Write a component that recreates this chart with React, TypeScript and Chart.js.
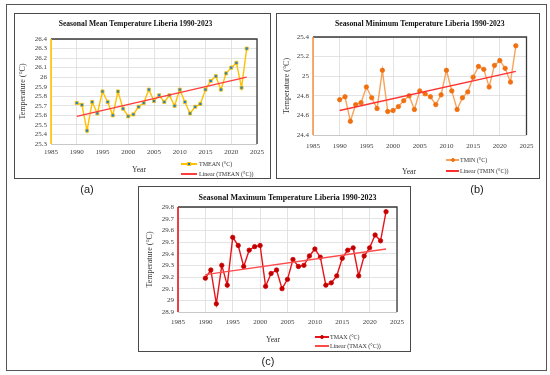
import React, { useEffect, useRef } from "react";
import { Chart, registerables } from "chart.js";
Chart.register(...registerables);

// ---------- data ----------
const years = [
  1990, 1991, 1992, 1993, 1994, 1995, 1996, 1997, 1998, 1999,
  2000, 2001, 2002, 2003, 2004, 2005, 2006, 2007, 2008, 2009,
  2010, 2011, 2012, 2013, 2014, 2015, 2016, 2017, 2018, 2019,
  2020, 2021, 2022, 2023,
];
const tmean = [
  25.73, 25.71, 25.44, 25.74, 25.62, 25.85, 25.74, 25.6, 25.85, 25.67,
  25.59, 25.61, 25.69, 25.73, 25.87, 25.75, 25.81, 25.74, 25.81, 25.7,
  25.87, 25.74, 25.62, 25.69, 25.72, 25.87, 25.96, 26.01, 25.87, 26.04,
  26.1, 26.15, 25.89, 26.3,
];
const tmin = [
  24.76, 24.79, 24.54, 24.71, 24.73, 24.89, 24.78, 24.67, 25.06, 24.64,
  24.65, 24.69, 24.75, 24.8, 24.66, 24.85, 24.82, 24.79, 24.71, 24.81,
  25.06, 24.85, 24.66, 24.78, 24.84, 24.99, 25.1, 25.07, 24.89, 25.11,
  25.16, 25.08, 24.94, 25.31,
];
const tmax = [
  29.19, 29.26, 28.97, 29.3, 29.13, 29.54, 29.47, 29.29, 29.43, 29.46,
  29.47, 29.12, 29.23, 29.26, 29.1, 29.18, 29.35, 29.29, 29.3, 29.38,
  29.44, 29.37, 29.13, 29.15, 29.21, 29.36, 29.43, 29.45, 29.21, 29.38,
  29.45, 29.56, 29.51, 29.76,
];
const trendYears = [1990, 2023];
const tmeanTrend = [25.59, 26.0];
const tminTrend = [24.65, 25.05];
const tmaxTrend = [29.22, 29.44];

const xMin = 1985;
const xMax = 2025;
const xStep = 5;

const titles = [
  "Seasonal Mean Temperature Liberia 1990-2023",
  "Seasonal Minimum Temperature Liberia 1990-2023",
  "Seasonal Maximum Temperature Liberia 1990-2023",
];
const seriesNames = ["TMEAN (°C)", "TMIN (°C)", "TMAX (°C)"];
const trendNames = ["Linear (TMEAN (°C))", "Linear (TMIN (°C))", "Linear (TMAX (°C))"];
const yTitle = "Temperature (°C)";
const xTitle = "Year";
const panelLabels = ["(a)", "(b)", "(c)"];

const SERIF = "'Liberation Serif', 'Times New Roman', serif";
const SANS = "'Liberation Sans', Arial, sans-serif";

// ---------- plugin ----------
const framePlugin = {
  id: "frame",
  afterDatasetsDraw(chart: any, _args: any, opts: any) {
    const { ctx, chartArea } = chart;
    const { left, top, right, bottom } = chartArea;
    ctx.save();
    ctx.lineWidth = 1;
    ctx.strokeStyle = "#C8C8C8";
    ctx.beginPath();
    ctx.moveTo(left, bottom + 0.5);
    ctx.lineTo(right, bottom + 0.5);
    ctx.stroke();
    ctx.strokeStyle = "#3A3A3A";
    ctx.lineWidth = 1.3;
    ctx.beginPath();
    ctx.moveTo(left, top);
    ctx.lineTo(right, top);
    ctx.lineTo(right, bottom);
    ctx.stroke();
    ctx.strokeStyle = opts.axisColor || "#000";
    ctx.lineWidth = 1.6;
    ctx.beginPath();
    ctx.moveTo(left, top);
    ctx.lineTo(left, bottom);
    ctx.stroke();
    ctx.restore();
  },
};

type PanelCfg = {
  box: { left: number; top: number; width: number; height: number };
  plot: { left: number; top: number; right: number; bottom: number };
  title: string;
  titleSize: number;
  titleCenterY: number;
  titleFull: boolean;
  yMin: number;
  yMax: number;
  yStep: number;
  values: number[];
  trend: number[];
  seriesName: string;
  trendName: string;
  lineColor: string;
  pointFill: string;
  pointBorder: string;
  pointStyle: string;
  trendColor: string;
  axisColor: string;
  yTitleX: number;
  xTickPad: number;
  legend: { rowY: number[]; swLeft: number; swWidth: number; textLeft: number; yearX: number; yearY: number };
};

const panels: PanelCfg[] = [
  {
    box: { left: 14, top: 13, width: 257, height: 166 },
    plot: { left: 37, top: 26, right: 243, bottom: 131 },
    title: titles[0],
    titleSize: 7.6,
    titleCenterY: 11,
    titleFull: true,
    yMin: 25.3,
    yMax: 26.4,
    yStep: 0.1,
    values: tmean,
    trend: tmeanTrend,
    seriesName: seriesNames[0],
    trendName: trendNames[0],
    lineColor: "#FFC000",
    pointFill: "#1E7FC8",
    pointBorder: "#FFC000",
    pointStyle: "rect",
    trendColor: "#FF3B3B",
    axisColor: "#FFC000",
    yTitleX: 9,
    xTickPad: 3.5,
    legend: { rowY: [151, 161], swLeft: 167, swWidth: 16, textLeft: 185, yearX: 125, yearY: 156 },
  },
  {
    box: { left: 276, top: 13, width: 264, height: 166 },
    plot: { left: 37, top: 24, right: 251, bottom: 122 },
    title: titles[1],
    titleSize: 7.7,
    titleCenterY: 11,
    titleFull: false,
    yMin: 24.4,
    yMax: 25.4,
    yStep: 0.2,
    values: tmin,
    trend: tminTrend,
    seriesName: seriesNames[1],
    trendName: trendNames[1],
    lineColor: "#F7A35C",
    pointFill: "#F07010",
    pointBorder: "#F07010",
    pointStyle: "circle",
    trendColor: "#FF3030",
    axisColor: "#F79646",
    yTitleX: 11,
    xTickPad: 6.5,
    legend: { rowY: [147, 158], swLeft: 170, swWidth: 13, textLeft: 184, yearX: 133, yearY: 158 },
  },
  {
    box: { left: 138, top: 186, width: 273, height: 166 },
    plot: { left: 40, top: 21, right: 259, bottom: 126 },
    title: titles[2],
    titleSize: 8,
    titleCenterY: 12,
    titleFull: false,
    yMin: 28.9,
    yMax: 29.8,
    yStep: 0.1,
    values: tmax,
    trend: tmaxTrend,
    seriesName: seriesNames[2],
    trendName: trendNames[2],
    lineColor: "#E8141B",
    pointFill: "#C00000",
    pointBorder: "#D00000",
    pointStyle: "circle",
    trendColor: "#FF4A4A",
    axisColor: "#E8141B",
    yTitleX: 12,
    xTickPad: 5.5,
    legend: { rowY: [151, 160], swLeft: 177, swWidth: 14, textLeft: 192, yearX: 135, yearY: 153 },
  },
];

function fmtY(v: number | string) {
  return String(parseFloat(Number(v).toFixed(2)));
}

function Panel({ cfg }: { cfg: PanelCfg }) {
  const ref = useRef<HTMLCanvasElement>(null);
  useEffect(() => {
    const { box, plot } = cfg;
    const lh = cfg.titleSize * 1.2;
    const tPadTop = cfg.titleCenterY - lh / 2;
    const tPadBottom = plot.top - tPadTop - lh;
    const yW = plot.left;
    const xH = box.height - plot.bottom;
    const rightPad = box.width - plot.right;
    const chart = new Chart(ref.current as HTMLCanvasElement, {
      type: "line",
      data: {
        datasets: [
          {
            label: cfg.trendName,
            data: trendYears.map((x, i) => ({ x, y: cfg.trend[i] })),
            borderColor: cfg.trendColor,
            borderWidth: 1.3,
            pointRadius: 0,
            order: 0,
          },
          {
            label: cfg.seriesName,
            data: years.map((x, i) => ({ x, y: cfg.values[i] })),
            borderColor: cfg.lineColor,
            borderWidth: 1.4,
            pointRadius: 2.2,
            pointStyle: cfg.pointStyle as any,
            pointBackgroundColor: cfg.pointFill,
            pointBorderColor: cfg.pointBorder,
            pointBorderWidth: 0.8,
            tension: 0,
            order: 1,
          },
        ],
      },
      options: {
        responsive: false,
        animation: false,
        devicePixelRatio: 1,
        layout: { padding: { left: 0, right: rightPad, top: 0, bottom: 0 } },
        plugins: {
          legend: { display: false },
          tooltip: { enabled: false },
          title: {
            display: true,
            text: cfg.title,
            fullSize: cfg.titleFull,
            color: "#111",
            font: { family: SERIF, size: cfg.titleSize, weight: "bold", lineHeight: 1.2 },
            padding: { top: tPadTop, bottom: tPadBottom },
          },
          frame: { axisColor: cfg.axisColor },
        } as any,
        scales: {
          x: {
            type: "linear",
            min: xMin,
            max: xMax,
            ticks: {
              stepSize: xStep,
              autoSkip: false,
              color: "#404040",
              padding: cfg.xTickPad,
              maxRotation: 0,
              font: { family: SERIF, size: 7 },
              callback: (v: any) => String(v),
            },
            grid: { color: "#DCDCDC", lineWidth: 0.8, drawTicks: false },
            border: { display: false },
            afterFit: (s: any) => {
              s.height = xH;
            },
          },
          y: {
            type: "linear",
            min: cfg.yMin,
            max: cfg.yMax,
            ticks: {
              stepSize: cfg.yStep,
              autoSkip: false,
              color: "#404040",
              padding: 4,
              font: { family: SERIF, size: 7, lineHeight: 1 },
              callback: (v: any) => fmtY(v),
            },
            grid: { color: "#DCDCDC", lineWidth: 0.8, drawTicks: false },
            border: { display: false },
            title: {
              display: true,
              text: yTitle,
              color: "#333",
              font: { family: SERIF, size: 8, lineHeight: 1.2 },
              padding: { top: cfg.yTitleX - 4.8, bottom: 0 },
            },
            afterFit: (s: any) => {
              s.width = yW;
            },
          },
        },
      } as any,
      plugins: [framePlugin as any],
    });
    return () => chart.destroy();
  }, [cfg]);

  const { box, legend } = cfg;
  const textStyle: React.CSSProperties = {
    position: "absolute",
    fontFamily: SERIF,
    fontSize: 6,
    color: "#333",
    lineHeight: "8px",
    whiteSpace: "nowrap",
    transform: "translateY(-50%)",
  };
  return (
    <div style={{ position: "absolute", left: box.left, top: box.top, width: box.width, height: box.height }}>
      <div
        style={{
          position: "absolute",
          left: 0,
          top: 0,
          width: box.width,
          height: box.height,
          boxSizing: "border-box",
          border: "1.5px solid #4A4A4A",
        }}
      />
      <canvas
        ref={ref}
        width={box.width}
        height={box.height}
        style={{ position: "absolute", left: 0, top: 0, width: box.width, height: box.height }}
      />
      {/* legend */}
      <div
        style={{
          position: "absolute",
          left: legend.swLeft,
          top: legend.rowY[0] - 0.75,
          width: legend.swWidth,
          height: 1.5,
          background: cfg.lineColor,
        }}
      />
      <div
        style={{
          position: "absolute",
          left: legend.swLeft + legend.swWidth / 2 - 2,
          top: legend.rowY[0] - 2,
          width: 4,
          height: 4,
          boxSizing: "border-box",
          background: cfg.pointFill,
          border: `0.8px solid ${cfg.pointBorder}`,
          borderRadius: cfg.pointStyle === "circle" ? "50%" : 0,
        }}
      />
      <div style={{ ...textStyle, left: legend.textLeft, top: legend.rowY[0] }}>{cfg.seriesName}</div>
      <div
        style={{
          position: "absolute",
          left: legend.swLeft,
          top: legend.rowY[1] - 0.65,
          width: legend.swWidth,
          height: 1.3,
          background: cfg.trendColor,
        }}
      />
      <div style={{ ...textStyle, left: legend.textLeft, top: legend.rowY[1] }}>{cfg.trendName}</div>
      <div
        style={{
          position: "absolute",
          left: legend.yearX,
          top: legend.yearY,
          transform: "translate(-50%, -50%)",
          fontFamily: SERIF,
          fontSize: 7.7,
          color: "#333",
          whiteSpace: "nowrap",
        }}
      >
        {xTitle}
      </div>
    </div>
  );
}

const labelPos = [
  { x: 87, y: 189 },
  { x: 477, y: 189 },
  { x: 268, y: 361 },
];

export default function App() {
  return (
    <div
      style={{
        position: "fixed",
        left: 0,
        top: 0,
        width: 550,
        height: 375,
        background: "#fff",
        overflow: "hidden",
      }}
    >
      <div
        style={{
          position: "absolute",
          left: 6,
          top: 4,
          width: 541,
          height: 367,
          boxSizing: "border-box",
          border: "1px solid #555",
        }}
      />
      {panels.map((p, i) => (
        <Panel key={i} cfg={p} />
      ))}
      {panelLabels.map((t, i) => (
        <div
          key={t}
          style={{
            position: "absolute",
            left: labelPos[i].x,
            top: labelPos[i].y,
            transform: "translate(-50%, -50%)",
            fontFamily: SANS,
            fontSize: 11,
            color: "#222",
          }}
        >
          {t}
        </div>
      ))}
    </div>
  );
}
